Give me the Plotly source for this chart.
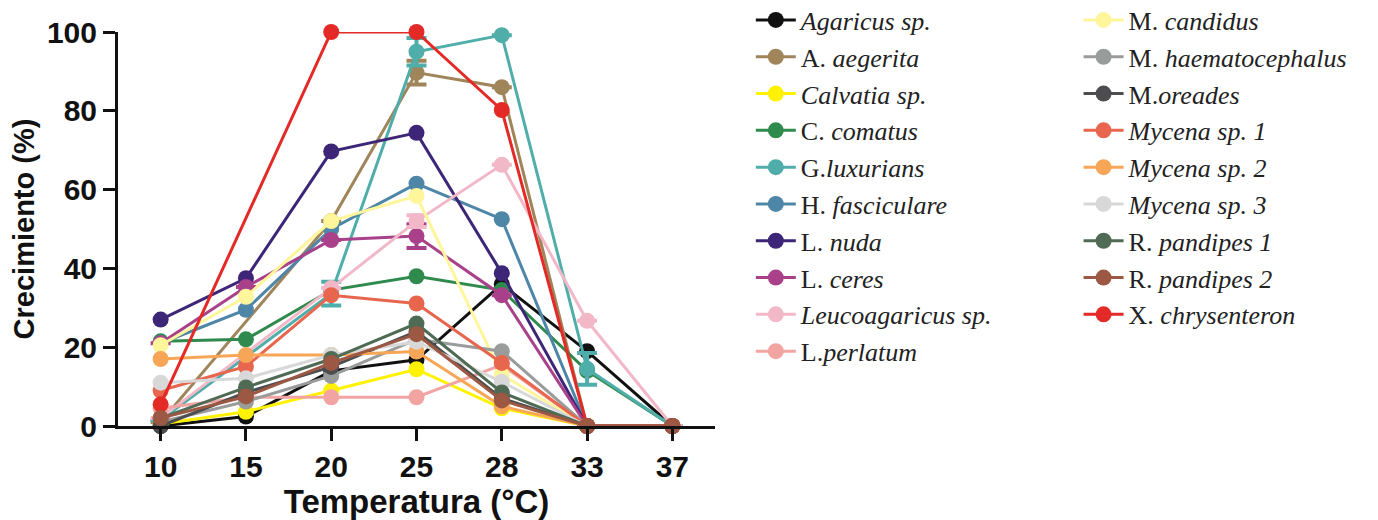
import plotly.graph_objects as go

temperatures = ["10", "15", "20", "25", "28", "33", "37"]

species = [
    "<i>Agaricus sp.</i>", "A. <i>aegerita</i>", "<i>Calvatia sp.</i>", "C. <i>comatus</i>",
    "G.<i>luxurians</i>", "H. <i>fasciculare</i>", "L. <i>nuda</i>", "L. <i>ceres</i>",
    "<i>Leucoagaricus sp.</i>", "L.<i>perlatum</i>",
    "M. <i>candidus</i>", "M. <i>haematocephalus</i>", "M.<i>oreades</i>", "<i>Mycena sp. 1</i>",
    "<i>Mycena sp. 2</i>", "<i>Mycena sp. 3</i>", "R. <i>pandipes 1</i>", "R. <i>pandipes 2</i>",
    "X. <i>chrysenteron</i>",
]

agaricus = [0, 2.4, 14, 16.8, 36, 19, 0]
aegerita = [1, None, 52, 89.7, 86, 0, 0]
calvatia = [0.5, 3.6, 9, 14.4, 4.5, 0, 0]
comatus = [21.5, 22, 34.5, 38, 34.5, 14, 0]
luxurians = [1.5, None, 33.6, 95, 99.2, 14.5, 0]
fasciculare = [21, 29.5, 50, 61.5, 52.5, 0, 0]
nuda = [27, 37.5, 69.7, 74.4, 38.8, 0, 0]
ceres = [21, 35.3, 47.2, 48.2, 33.2, 0, 0]
leucoagaricus = [2, None, 35, 52, 66.3, 26.7, 0]
perlatum = [4.5, 7.3, 7.3, 7.3, 15.5, 0, 0]
candidus = [20.5, 32.8, 52, 58.4, 13, 0, 0]
haemato = [1, 6.2, 12.7, 22, 19, 0, 0]
oreades = [0, 8.5, 15, 24, 7, 0, 0]
mycena1 = [9, 15.1, 33.2, 31.1, 16, 0, 0]
mycena2 = [17, 18, 18, 18.9, 5, 0, 0]
mycena3 = [11, 12.1, 18, 21.4, 11.2, 0, 0]
pandipes1 = [2, 9.8, 17, 26, 8.5, 0, 0]
pandipes2 = [2, 7.5, 16, 23.3, 6.5, 0, 0]
chrysenteron = [5.5, None, 100, 100, 80.2, 0, 0]

# error bars (SD) where visible
err_aegerita = [None, None, None, 3, None, None, None]
err_luxurians = [None, None, 3, 3.5, None, 4, None]
err_ceres = [None, None, None, 3, None, None, None]
err_leuco = [None, None, None, 1.5, None, None, None]

series = [agaricus, aegerita, calvatia, comatus, luxurians, fasciculare, nuda, ceres,
          leucoagaricus, perlatum, candidus, haemato, oreades, mycena1, mycena2, mycena3,
          pandipes1, pandipes2, chrysenteron]
errors = {1: err_aegerita, 4: err_luxurians, 7: err_ceres, 8: err_leuco}

colors = ["#111111", "#A0855B", "#FFF200", "#2F8A4E", "#4FAEAA", "#4E86A8", "#3D2577",
          "#A8418A", "#F2B8C8", "#F2A4A2", "#FFF59A", "#9A9C9C", "#4D4D4F", "#E8654E",
          "#F7A556", "#D8D8D8", "#4F6B55", "#9C5843", "#E32A26"]

# drawing (stacking) order; legend order is kept with legendrank
draw_order = [0, 1, 2, 3, 4, 5, 6, 7, 8, 9, 10, 11, 12, 13, 14, 15, 16, 18, 17]

fig = go.Figure()
for i in draw_order:
    name, vals = species[i], series[i]
    kw = {}
    if i in errors:
        kw["error_y"] = dict(type="data", array=errors[i], visible=True, color=colors[i],
                             thickness=4, width=10)
    fig.add_trace(go.Scatter(
        x=temperatures, y=vals, name=name, mode="lines+markers",
        line=dict(color=colors[i], width=3),
        marker=dict(color=colors[i], size=16),
        connectgaps=True, cliponaxis=False,
        legend="legend" if i < 10 else "legend2",
        legendrank=1000 + i,
        **kw,
    ))

tick_font = dict(family="Liberation Sans, Arial, sans-serif", size=30, color="#111", weight="bold")
leg_font = dict(family="Liberation Serif, Times New Roman, serif", size=26, color="#222")

fig.update_layout(
    width=1370, height=512, autosize=False,
    margin=dict(l=110, r=663, t=24, b=94, autoexpand=False),
    plot_bgcolor="white", paper_bgcolor="white",
    showlegend=True,
    legend=dict(x=1.06, y=1.09, xanchor="left", yanchor="top", font=leg_font,
                bgcolor="rgba(0,0,0,0)", tracegroupgap=0, itemwidth=40, maxheight=480),
    legend2=dict(x=1.609, y=1.09, xanchor="left", yanchor="top", font=leg_font,
                 bgcolor="rgba(0,0,0,0)", tracegroupgap=0, itemwidth=40, maxheight=480),
    xaxis=dict(type="category", range=[-0.5, 6.5], showline=True, linewidth=3,
               linecolor="#111", ticks="outside", ticklen=12, tickwidth=3, tickcolor="#111",
               showgrid=False, zeroline=False, tickfont=tick_font, automargin=False,
               title=dict(text="Temperatura (°C)", font=dict(tick_font, size=33), standoff=8)),
    yaxis=dict(range=[0, 100], tickvals=[0, 20, 40, 60, 80, 100], showline=True, linewidth=3,
               linecolor="#111", ticks="outside", ticklen=12, tickwidth=3, tickcolor="#111",
               showgrid=False, zeroline=False, tickfont=tick_font, automargin=False,
               title=dict(text="Crecimiento (%)", font=dict(tick_font, size=29), standoff=12)),
)

fig.write_html("out.html")
